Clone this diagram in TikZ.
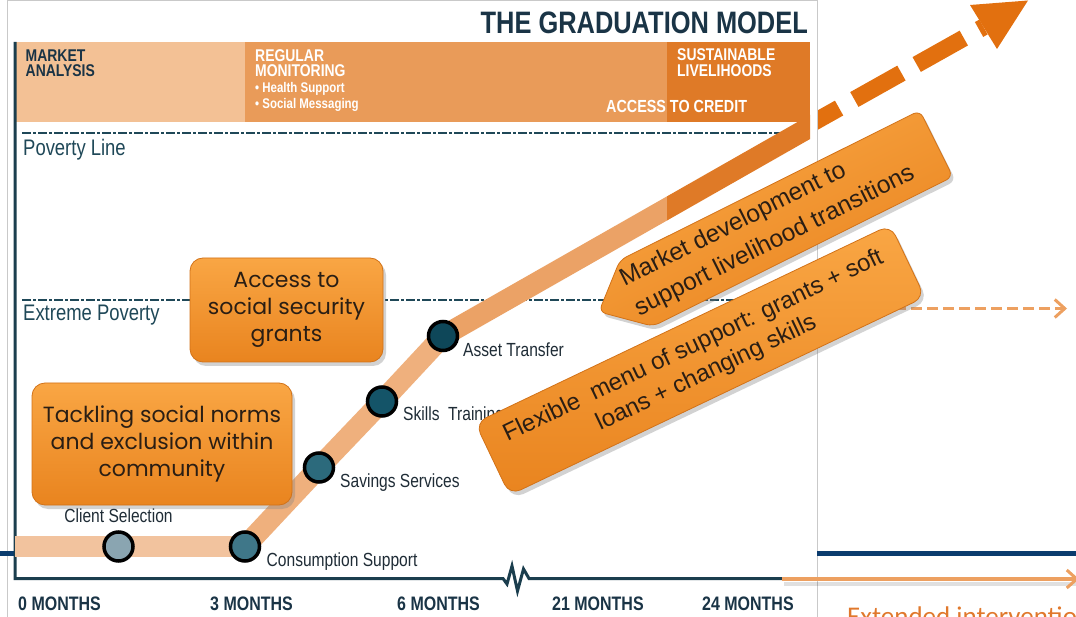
\documentclass[tikz,border=0pt]{standalone}
\usepackage{fontspec}
\setmainfont{Liberation Sans}
\newfontfamily\condfont[FakeStretch=0.82]{Liberation Sans}
\newfontfamily\plainfont{Liberation Sans}
\newfontfamily\boxfont{Poppins}
\newfontfamily\notefont{Carlito}
\usetikzlibrary{arrows.meta,shadows}

\definecolor{navytext}{HTML}{1A3446}
\definecolor{axiscol}{HTML}{1B3E4E}
\definecolor{dashcol}{HTML}{1F4858}
\definecolor{labelcol}{HTML}{1F2C36}
\definecolor{peach}{HTML}{F3C195}
\definecolor{midor}{HTML}{E99B59}
\definecolor{darkor}{HTML}{DF7A27}
\definecolor{bandlight}{HTML}{F2C39E}
\definecolor{bandlow}{HTML}{EFB07D}
\definecolor{bandhigh}{HTML}{EBA266}
\definecolor{arrowor}{HTML}{E2700F}
\definecolor{lightor}{HTML}{EDA060}
\definecolor{notecol}{HTML}{E0782C}
\definecolor{callTop}{HTML}{F9A644}
\definecolor{callBot}{HTML}{E9841F}
\definecolor{callEdge}{HTML}{D27218}
\definecolor{callText}{HTML}{2A1E14}
\definecolor{slidenavy}{HTML}{0B3C6E}
\definecolor{framegray}{HTML}{C9C9C9}
\definecolor{stA}{HTML}{8AA5B1}
\definecolor{stB}{HTML}{3F7789}
\definecolor{stC}{HTML}{2C6A7C}
\definecolor{stD}{HTML}{145468}
\definecolor{stE}{HTML}{0E4759}

\begin{document}
\begin{tikzpicture}[x=1pt,y=-1pt,
  hdrdark/.style={anchor=base west, inner sep=0pt, text=navytext,
    font=\condfont\bfseries\fontsize{17}{17}\selectfont},
  hdrlight/.style={anchor=base west, inner sep=0pt, text=white,
    font=\condfont\bfseries\fontsize{17}{17}\selectfont},
  hdrsmall/.style={anchor=base west, inner sep=0pt, text=white,
    font=\condfont\bfseries\fontsize{14}{14}\selectfont},
  monthlbl/.style={anchor=base west, inner sep=0pt, text=navytext,
    font=\condfont\bfseries\fontsize{19.5}{19.5}\selectfont},
  levellbl/.style={anchor=base west, inner sep=0pt, text=dashcol,
    font=\condfont\fontsize{22.5}{22.5}\selectfont},
  stagelbl/.style={anchor=base west, inner sep=0pt, text=labelcol,
    font=\condfont\fontsize{19}{19}\selectfont},
  stage/.style={circle, draw=black, line width=3.5pt, minimum size=29pt, inner sep=0pt},
  levelline/.style={dashcol, line width=2.8pt, dash pattern=on 9pt off 2pt on 3pt off 2pt},
  callout/.style={rounded corners=13pt, top color=callTop, bottom color=callBot,
    draw=callEdge, line width=0.8pt,
    drop shadow={opacity=0.35, shadow xshift=3pt, shadow yshift=-4pt},
    text=callText, align=center, inner sep=0pt},
  barb/.style={-{Straight Barb[length=10pt, width=18pt, line width=3pt]}}
]
\useasboundingbox (0,0) rectangle (1076,617);

% ---- big dashed arrow rising out of the model (behind the figure)
\coordinate (arrS) at (792,134.5);
\coordinate (arrH) at (983.5,27);
\coordinate (arrT) at (1028,0.5);
\coordinate (arrA) at (970,5);
\coordinate (arrB) at (997,49);
\draw[arrowor, line width=17pt, dash pattern=on 54pt off 17.5pt] (arrS) -- (arrH);
\fill[arrowor] (arrA) -- (arrT) -- (arrB) -- cycle;

% ---- figure area
\filldraw[fill=white, draw=framegray, line width=0.8pt] (7.5,0.5) rectangle (817,625);
\draw[slidenavy, line width=5pt] (0,553) -- (14,553);
\draw[slidenavy, line width=5pt] (817.4,553) -- (1076,553);

% title
\node[anchor=base east, inner sep=0pt, text=navytext,
  font=\condfont\bfseries\fontsize{31}{31}\selectfont] (title) at (808,33.5) {THE GRADUATION MODEL};

% phase header
\fill[peach] (15,42) rectangle (245,122);
\fill[midor] (245,42) rectangle (667,122);
\fill[darkor] (667,42) rectangle (810,122);
\node[hdrdark] (h1a) at (25.5,61.5) {MARKET};
\node[hdrdark] (h1b) at (25.5,76.5) {ANALYSIS};
\node[hdrlight] (h2a) at (255,61.5) {REGULAR};
\node[hdrlight] (h2b) at (255,76.5) {MONITORING};
\node[hdrsmall] (h2c) at (255,92.5) {• Health Support};
\node[hdrsmall] (h2d) at (255,109) {• Social Messaging};
\node[hdrlight] (h3a) at (677,61) {SUSTAINABLE};
\node[hdrlight] (h3b) at (677,76.5) {LIVELIHOODS};
\node[hdrlight, font=\condfont\bfseries\fontsize{17.5}{17.5}\selectfont] (h3c) at (606,113) {ACCESS TO CREDIT};

% poverty levels
\draw[levelline] (22,133) -- (800,133);
\draw[levelline] (22,300) -- (800,300);
\node[levellbl] (pline) at (23,156) {Poverty Line};
\node[levellbl] (xpov) at (23,320.5) {Extreme Poverty};

% axes
\draw[axiscol, line width=3pt, line join=miter]
  (15,42) -- (15,578.5) -- (503,578.5) -- (507,584) -- (512,566) -- (517.5,591)
  -- (523.5,569) -- (529,578.5) -- (783,578.5);
\node[monthlbl] (m0) at (18,610.5) {0 MONTHS};
\node[monthlbl] (m3) at (210,610.5) {3 MONTHS};
\node[monthlbl] (m6) at (397,610.5) {6 MONTHS};
\node[monthlbl] (m21) at (552,610.5) {21 MONTHS};
\node[monthlbl] (m24) at (702,610.5) {24 MONTHS};

% graduation pathway
\coordinate (bandS) at (15,546.5);
\coordinate (pClient) at (118.5,546.5);
\coordinate (pConsume) at (245,546.5);
\coordinate (pSavings) at (319,467.5);
\coordinate (pSkills) at (382,401.5);
\coordinate (pAsset) at (443,336);
\coordinate (bandE) at (830,115.6);
\draw[bandlight, line width=21pt] (bandS) -- (pClient) -- (pConsume);
\draw[bandlow, line width=21pt] (pConsume) -- (pSavings) -- (pSkills) -- (pAsset);
\begin{scope}
  \clip (400,0) rectangle (667,617);
  \draw[bandhigh, line width=21pt] (pAsset) -- (bandE);
\end{scope}
\begin{scope}
  \clip (667,0) rectangle (810,617);
  \draw[darkor, line width=21pt] (pAsset) -- (bandE);
\end{scope}

\node[stage, fill=stA] (client) at (pClient) {};
\node[stage, fill=stB] (consume) at (pConsume) {};
\node[stage, fill=stC] (savings) at (pSavings) {};
\node[stage, fill=stD] (skills) at (pSkills) {};
\node[stage, fill=stE] (asset) at (pAsset) {};

\node[stagelbl, anchor=base] (lclient) at (118.5,522.5) {Client Selection};
\node[stagelbl] (lconsume) at (266.5,566) {Consumption Support};
\node[stagelbl] (lsavings) at (340,487) {Savings Services};
\node[stagelbl] (lskills) at (403,420.5) {Skills\ \ Training};
\node[stagelbl] (lasset) at (463,357) {Asset Transfer};

% ---- overlays
\coordinate (bArrS) at (782,579);
\coordinate (bArrE) at (1079,579);
\coordinate (bShS) at (784,583.5);
\coordinate (bShE) at (1076,583.5);
\draw[black, opacity=0.12, line width=4pt] (bShS) -- (bShE);
\draw[lightor, line width=4pt, barb] (bArrS) -- (bArrE);
\node[anchor=base west, inner sep=0pt, text=notecol,
  font=\notefont\fontsize{27}{27}\selectfont] (ext) at (847,625) {Extended interventio};

\coordinate (tdS) at (895,308.5);
\coordinate (tdE) at (1067,308.5);
\draw[lightor, line width=3.2pt, dash pattern=on 11pt off 5pt, barb] (tdS) -- (tdE);

\node[callout, minimum width=193pt, minimum height=104pt,
  font=\boxfont\fontsize{22}{27}\selectfont] (access) at (286.5,310)
  {Access to\\social security\\grants};
\node[callout, minimum width=260pt, minimum height=122pt,
  font=\boxfont\fontsize{22}{27}\selectfont] (norms) at (162,444)
  {Tackling social norms\\and exclusion within\\community};

\begin{scope}[shift={(620,260)}, rotate=26.5]
  \path[rounded corners=7pt, top color=callTop, bottom color=callBot, shading angle=26,
    draw=callEdge, line width=0.8pt,
    drop shadow={opacity=0.35, shadow xshift=3pt, shadow yshift=-4pt}]
    (0,0) -- (335,0) -- (335,74) -- (0,74) -- (-42,37) -- cycle;
  \node[rotate=26.5, anchor=west, align=left, inner sep=0pt, text=callText,
    font=\plainfont\fontsize{24.5}{33}\selectfont] (market) at (-8,36)
    {Market development to\\support livelihood transitions};
\end{scope}

\node[callout, rotate=25.5, rounded corners=12pt, minimum width=460pt, minimum height=80pt,
  font=\plainfont\fontsize{24}{30}\selectfont] (flex) at (700,360)
  {Flexible\ \ menu of support: grants + soft\\loans + changing skills};

\end{tikzpicture}
\end{document}
